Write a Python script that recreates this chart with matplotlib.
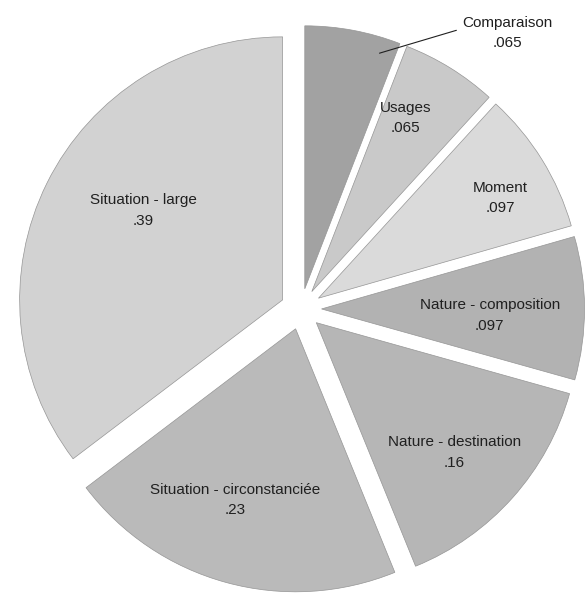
import numpy as np
import matplotlib
matplotlib.use("Agg")
import matplotlib.pyplot as plt

plt.rcParams['font.family'] = ['Liberation Sans', 'DejaVu Sans']

# slices, clockwise from 12 o'clock
categories = ['Comparaison', 'Usages', 'Moment', 'Nature - composition',
              'Nature - destination', 'Situation - circonstanciée',
              'Situation - large']
values = [0.065, 0.065, 0.097, 0.097, 0.16, 0.23, 0.39]
value_labels = ['.065', '.065', '.097', '.097', '.16', '.23', '.39']

colors = ['#a2a2a2', '#c9c9c9', '#dadada', '#b2b2b2',
          '#b6b6b6', '#bababa', '#d2d2d2']

# label placement inside each wedge: radius (fraction of R), angle shift (deg)
label_r = [0, 0.75, 0.79, 0.64, 0.72, 0.69, 0.63]
label_dt = [0, 3.5, -3.0, -2.3, -1.5, -4.0, -6.3]

fig = plt.figure(figsize=(5.85, 5.93), dpi=100)
ax = fig.add_axes([0, 0, 1, 1])

wedges, _ = ax.pie(values, colors=colors,
                   startangle=90, counterclock=False,
                   explode=[0.078] * len(values),
                   wedgeprops=dict(edgecolor='#959595', linewidth=0.5))

for i, w in enumerate(wedges):
    if i == 0:
        continue
    mid = np.deg2rad(0.5 * (w.theta1 + w.theta2) + label_dt[i])
    x = w.center[0] + label_r[i] * np.cos(mid)
    y = w.center[1] + label_r[i] * np.sin(mid)
    ax.text(x, y, categories[i] + '\n' + value_labels[i], ha='center',
            va='center', fontsize=11, color='#202020', linespacing=1.6)

# leader line for the first (small) slice
w = wedges[0]
ang = np.deg2rad(w.theta1 + 0.17 * (w.theta2 - w.theta1))
px = w.center[0] + 0.94 * np.cos(ang)
py = w.center[1] + 0.94 * np.sin(ang)
ax.annotate(categories[0] + '\n' + value_labels[0], xy=(px, py),
            xytext=(0.783, 1.05), ha='center', va='center',
            fontsize=11, color='#202020', linespacing=1.6,
            arrowprops=dict(arrowstyle='-', color='#202020', lw=0.8,
                            relpos=(0.0, 0.62), shrinkA=2, shrinkB=0))

ax.set_xlim(-1.1445, 1.0798)
ax.set_ylim(-1.0798, 1.1749)
ax.set_aspect('auto')
ax.axis('off')

fig.savefig('out.png', dpi=100, facecolor='white')
